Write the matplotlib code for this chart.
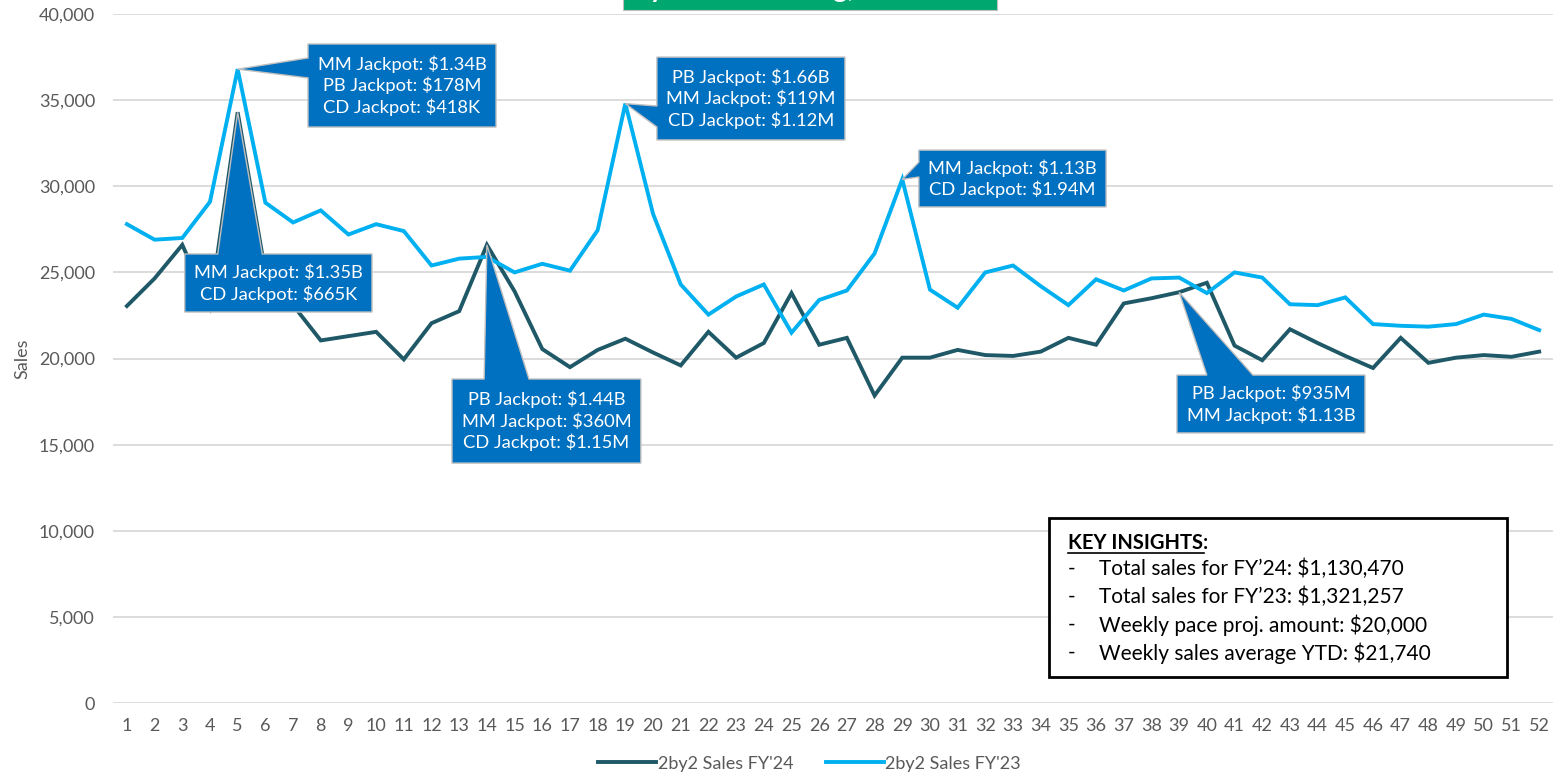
import matplotlib
matplotlib.use("Agg")
import matplotlib.pyplot as plt
from matplotlib.patches import Polygon, Rectangle
from matplotlib.ticker import FuncFormatter

plt.rcParams['font.family'] = ['Lato', 'DejaVu Sans']

# data
weeks = list(range(1, 53))
sales_fy24 = [23050, 24650, 26600, 23000, 34300, 25000, 23100, 21050, 21300, 21550,
              19950, 22050, 22750, 26600, 23900, 20550, 19500, 20500, 21150, 20350,
              19600, 21550, 20050, 20900, 23800, 20800, 21200, 17850, 20050, 20050,
              20500, 20200, 20150, 20400, 21200, 20800, 23200, 23500, 23850, 24400,
              20750, 19900, 21700, 20900, 20150, 19450, 21200, 19750, 20050, 20200,
              20100, 20400]
sales_fy23 = [27800, 26900, 27000, 29100, 36800, 29050, 27900, 28600, 27200, 27800,
              27400, 25400, 25800, 25900, 25000, 25500, 25100, 27450, 34800, 28400,
              24300, 22550, 23600, 24300, 21500, 23400, 23950, 26100, 30400, 24000,
              22950, 25000, 25400, 24200, 23100, 24600, 23950, 24650, 24700, 23800,
              25000, 24700, 23150, 23100, 23550, 22000, 21900, 21850, 22000, 22550,
              22300, 21650]
series_names = ["2by2 Sales FY'24", "2by2 Sales FY'23"]

insights = ["Total sales for FY\u201924: $1,130,470",
            "Total sales for FY\u201923: $1,321,257",
            "Weekly pace proj. amount: $20,000",
            "Weekly sales average YTD: $21,740"]

# callouts: (series, week, text, box x0, x1, y0, y1, side, wedge base a, b)
callouts = [
    (1, 5, "MM Jackpot: $1.34B\nPB Jackpot: $178M\nCD Jackpot: $418K",
     7.54, 14.33, 33440, 38260, 'left', 37450, 36290),
    (0, 5, "MM Jackpot: $1.35B\nCD Jackpot: $665K",
     3.09, 9.85, 22700, 26070, 'top', 4.28, 5.89),
    (0, 14, "PB Jackpot: $1.44B\nMM Jackpot: $360M\nCD Jackpot: $1.15M",
     12.74, 19.56, 13930, 18810, 'top', 13.9, 15.52),
    (1, 19, "PB Jackpot: $1.66B\nMM Jackpot: $119M\nCD Jackpot: $1.12M",
     20.14, 26.93, 32690, 37500, 'left', 34660, 33440),
    (1, 29, "MM Jackpot: $1.13B\nCD Jackpot: $1.94M",
     29.6, 36.36, 28800, 32100, 'left', 31400, 30540),
    (0, 39, "PB Jackpot: $935M\nMM Jackpot: $1.13B",
     38.92, 45.71, 15680, 19040, 'top', 40.0, 41.66),
]

dark = '#1F5867'
light = '#00B0F0'
box_blue = '#0070C0'
grey_txt = '#595959'

fig = plt.figure(figsize=(15.66, 7.8), dpi=100)
ax = fig.add_axes([0.0722, 0.0987, 0.9195, 0.8833])

l1, = ax.plot(weeks, sales_fy24, color=dark, lw=2.8, solid_joinstyle='miter', zorder=3)
l2, = ax.plot(weeks, sales_fy23, color=light, lw=2.8, solid_joinstyle='miter', zorder=3)

ax.set_xlim(0.5, 52.5)
ax.set_ylim(0, 40000)
ax.set_xticks(weeks)
ax.set_yticks(range(0, 40001, 5000))
ax.yaxis.set_major_formatter(FuncFormatter(lambda v, p: f"{int(v):,}"))
ax.tick_params(length=0, labelsize=13, labelcolor=grey_txt)
ax.tick_params(axis='x', pad=11)
ax.tick_params(axis='y', pad=13)
ax.grid(axis='y', color='#D9D9D9', lw=1.3)
ax.set_axisbelow(True)
for s in ax.spines.values():
    s.set_visible(False)
ax.set_ylabel("Sales", fontsize=13, color=grey_txt, labelpad=6)

series = [sales_fy24, sales_fy23]
for si, wk, txt, x0, x1, y0, y1, side, a, b in callouts:
    tip = (wk, series[si][wk - 1])
    if side == 'left':
        verts = [(x0, y1), (x1, y1), (x1, y0), (x0, y0), (x0, b), tip, (x0, a)]
    else:
        verts = [(x0, y1), (a, y1), tip, (b, y1), (x1, y1), (x1, y0), (x0, y0)]
    ax.add_patch(Polygon(verts, closed=True, facecolor=box_blue, edgecolor='#BFBFBF',
                         lw=1, zorder=5, clip_on=False))
    ax.text((x0 + x1) / 2, (y0 + y1) / 2, txt, ha='center', va='center', color='white',
            fontsize=13.2, linespacing=1.28, zorder=6)

# key insights box
ax.add_patch(Rectangle((0.65, 0.0377), 0.318, 0.2308, transform=ax.transAxes,
                       facecolor='white', edgecolor='black', lw=2, zorder=6))
ax.text(0.6632, 0.2322, "KEY INSIGHTS:", transform=ax.transAxes, fontsize=14.5,
        fontweight='bold', color='black', va='center', zorder=7)
ax.plot([0.6632, 0.7576], [0.2177, 0.2177], transform=ax.transAxes, color='black',
        lw=1.2, zorder=7)
for i, line in enumerate(insights):
    yy = 0.1945 - i * 0.0406
    ax.text(0.6632, yy, "-", transform=ax.transAxes, fontsize=15, va='center', zorder=7)
    ax.text(0.6845, yy, line, transform=ax.transAxes, fontsize=15, va='center', zorder=7)

# title bar, mostly cut off at the top edge
fig.patches.append(Rectangle((623 / 1566, 1 - 10 / 780), 374 / 1566, 12 / 780,
                             transform=fig.transFigure, facecolor='#00A870',
                             edgecolor='#BFBFBF', lw=0.8))
fig.text(810 / 1566, 1.0035, "Weekly Sales Tracking, FY'24 vs. FY'23", ha='center',
         va='baseline', color='white', fontsize=20, fontweight='bold')

fig.legend([l1, l2], series_names, loc='lower center', bbox_to_anchor=(0.517, -0.01),
           ncol=2, frameon=False, fontsize=13, labelcolor=grey_txt, handlelength=3.2,
           handletextpad=0.1, columnspacing=1.8)

fig.savefig("out.png", dpi=100)
